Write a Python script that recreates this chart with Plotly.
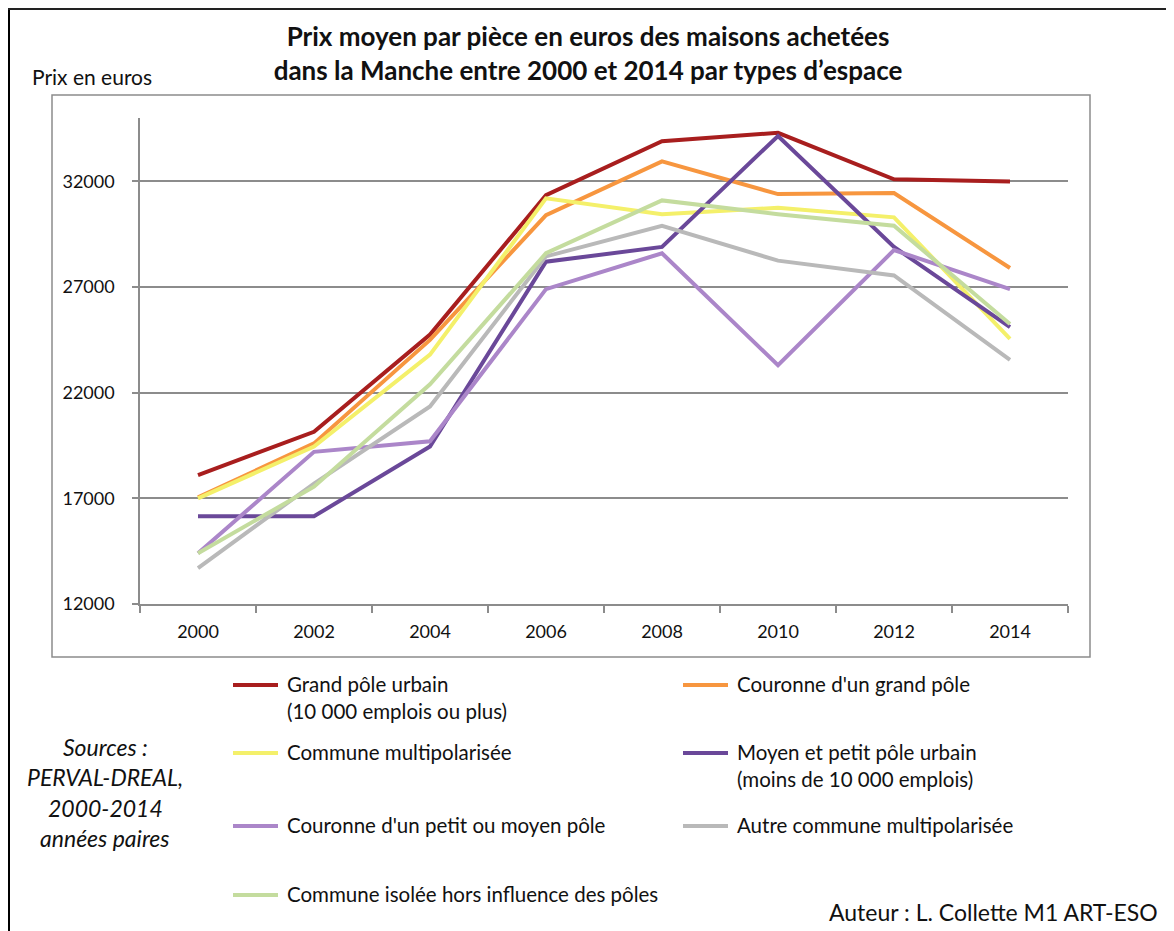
import plotly.graph_objects as go

# ---------------- data ----------------
years = ["2000", "2002", "2004", "2006", "2008", "2010", "2012", "2014"]

grand_pole = [18100, 20150, 24750, 31350, 33900, 34300, 32100, 32000]
couronne_grand = [17050, 19600, 24500, 30400, 32950, 31400, 31450, 27900]
commune_multi = [17000, 19450, 23800, 31200, 30450, 30750, 30300, 24550]
moyen_petit = [16150, 16150, 19450, 28200, 28900, 34150, 28900, 25100]
couronne_petit = [14400, 19200, 19700, 26900, 28600, 23300, 28750, 26900]
autre_multi = [13700, 17700, 21350, 28450, 29900, 28250, 27550, 23550]
commune_isolee = [14400, 17550, 22400, 28600, 31100, 30450, 29900, 25250]

series_names = [
    "Grand pôle urbain<br>(10 000 emplois ou plus)",
    "Couronne d'un grand pôle",
    "Commune multipolarisée",
    "Moyen et petit pôle urbain<br>(moins de 10 000 emplois)",
    "Couronne d'un petit ou moyen pôle",
    "Autre commune multipolarisée",
    "Commune isolée hors influence des pôles",
]
series_values = [grand_pole, couronne_grand, commune_multi, moyen_petit,
                 couronne_petit, autre_multi, commune_isolee]
series_colors = ["#A81E1E", "#F7963F", "#F4F06A", "#6A4899",
                 "#AB86C9", "#B9B9B9", "#C4DC9E"]

y_ticks = [12000, 17000, 22000, 27000, 32000]

# ---------------- layout geometry (pixels, reference image coords) ----------------
OFF = 8                      # page body margin
W, H = 1174 - OFF, 931 - OFF  # figure size
PL, PR, PT, PB = 140, 1068, 118, 604  # plot area in reference pixels
FONT = "Lato, 'Open Sans', sans-serif"
GRID = "#8C8C8C"
TXT = "#111111"


def px(x):
    return (x - PL) / (PR - PL)


def py(y):
    return (PB - y) / (PB - PT)


fig = go.Figure()
for name, vals, col in zip(series_names, series_values, series_colors):
    fig.add_trace(go.Scatter(x=years, y=vals, mode="lines", name=name,
                             line=dict(color=col, width=4), showlegend=False))

shapes = []
annotations = []

# outer frame
shapes.append(dict(type="line", xref="paper", yref="paper", x0=px(8.5), x1=px(8.5),
                   y0=py(7), y1=py(940), line=dict(color="black", width=3)))
shapes.append(dict(type="line", xref="paper", yref="paper", x0=px(7), x1=px(1174),
                   y0=py(8.5), y1=py(8.5), line=dict(color="#222222", width=3)))
shapes.append(dict(type="line", xref="paper", yref="paper", x0=px(1171), x1=px(1171),
                   y0=py(8), y1=py(940), line=dict(color="#9A9A9A", width=1.5)))
# inner chart frame
shapes.append(dict(type="rect", xref="paper", yref="paper", x0=px(52), x1=px(1090),
                   y0=py(657), y1=py(95), line=dict(color="#8C8C8C", width=1.5),
                   layer="below"))

# legend (manual, two columns)
legend_items = [
    (233, 685, 0, 285, ["Grand pôle urbain", "(10 000 emplois ou plus)"]),
    (683, 685, 1, 735, ["Couronne d'un grand pôle"]),
    (233, 753, 2, 285, ["Commune multipolarisée"]),
    (683, 753, 3, 735, ["Moyen et petit pôle urbain", "(moins de 10 000 emplois)"]),
    (233, 826, 4, 285, ["Couronne d'un petit ou moyen pôle"]),
    (683, 826, 5, 735, ["Autre commune multipolarisée"]),
    (233, 895, 6, 285, ["Commune isolée hors influence des pôles"]),
]
for lx, ly, idx, tx, lines in legend_items:
    shapes.append(dict(type="line", xref="paper", yref="paper", x0=px(lx), x1=px(lx + 45),
                       y0=py(ly), y1=py(ly), line=dict(color=series_colors[idx], width=4)))
    for k, t in enumerate(lines):
        annotations.append(dict(xref="paper", yref="paper", x=px(tx), y=py(ly - 1 + 27 * k),
                                xanchor="left", yanchor="middle", text=t, showarrow=False,
                                font=dict(family=FONT, size=20.5, color=TXT)))

# y axis caption
annotations.append(dict(xref="paper", yref="paper", x=px(30), y=py(76), xanchor="left",
                        yanchor="middle", text="Prix en euros", showarrow=False,
                        font=dict(family=FONT, size=21, color=TXT)))

# sources
for k, t in enumerate(["Sources :", "PERVAL-DREAL,", "2000-2014", "années paires"]):
    annotations.append(dict(xref="paper", yref="paper", x=px(105), y=py(747 + 30.3 * k),
                            xanchor="center", yanchor="middle", text="<i>" + t + "</i>",
                            showarrow=False,
                            font=dict(family=FONT, size=23, color=TXT)))

# author
annotations.append(dict(xref="paper", yref="paper", x=px(1160), y=py(912), xanchor="right",
                        yanchor="middle", text="Auteur : L. Collette M1 ART-ESO",
                        showarrow=False, font=dict(family=FONT, size=23, color=TXT)))

fig.update_layout(
    width=W, height=H,
    margin=dict(l=PL - OFF, r=W - (PR - OFF), t=PT - OFF, b=H - (PB - OFF), pad=0),
    paper_bgcolor="white", plot_bgcolor="white",
    title=dict(text="<b>Prix moyen par pièce en euros des maisons achetées<br>"
                    "dans la Manche entre 2000 et 2014 par types d’espace</b>",
               x=(588 - OFF) / W, xanchor="center", y=1 - (46 - OFF) / H, yanchor="middle",
               font=dict(family=FONT, size=26, color=TXT)),
    shapes=shapes,
    annotations=annotations,
    showlegend=False,
)
fig.update_xaxes(type="category", range=[-0.5, 7.5], showgrid=False,
                 showline=True, linecolor=GRID, linewidth=1.5,
                 ticks="outside", tickson="boundaries", ticklen=7, tickcolor=GRID,
                 tickwidth=1.5, ticklabelstandoff=11,
                 tickfont=dict(family=FONT, size=18, color=TXT))
fig.update_yaxes(range=[12000, 35000], tickvals=y_ticks, tickformat="d", showgrid=True,
                 gridcolor=GRID, gridwidth=1.5, zeroline=False,
                 showline=True, linecolor=GRID, linewidth=1.5,
                 ticks="outside", ticklen=6, tickcolor=GRID, tickwidth=1.5,
                 ticklabelstandoff=14,
                 tickfont=dict(family=FONT, size=18, color=TXT))

fig.write_html("out.html")
